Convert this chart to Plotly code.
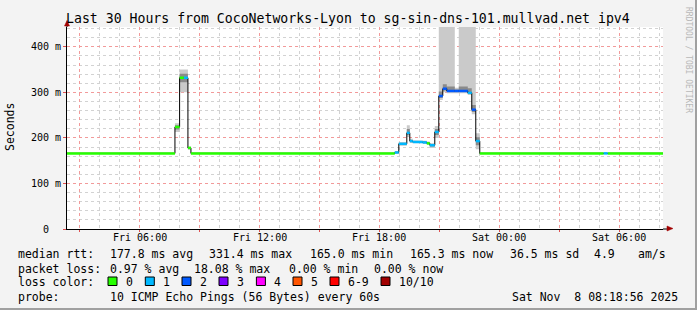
import plotly.graph_objects as go

# ---------------- data ----------------
seg_start = [
    "2025-11-07 02:22", "2025-11-07 07:46", "2025-11-07 08:00", "2025-11-07 08:13",
    "2025-11-07 08:25", "2025-11-07 08:34", "2025-11-07 18:46", "2025-11-07 18:58",
    "2025-11-07 19:22", "2025-11-07 19:31", "2025-11-07 19:40", "2025-11-07 20:10",
    "2025-11-07 20:22", "2025-11-07 20:31", "2025-11-07 20:46", "2025-11-07 20:58",
    "2025-11-07 21:10", "2025-11-07 21:22", "2025-11-07 21:46", "2025-11-07 21:58",
    "2025-11-07 22:25", "2025-11-07 22:37", "2025-11-07 22:49", "2025-11-07 23:01",
    "2025-11-08 05:13", "2025-11-08 05:25",
]
median_ms = [166, 224, 332, 332, 178, 166, 168, 187, 211, 193, 191, 190, 188, 184, 213,
             292, 308, 303, 303, 303, 299, 262, 193, 166, 166, 166]
smoke_lo_ms = [165, 213, 300, 300, 174, 165, 165, 183, 202, 189, 188, 187, 185, 178, 200,
               283, 300, 298, 298, 298, 294, 252, 175, 165, 165, 165]
smoke_hi_ms = [168, 232, 350, 350, 181, 168, 171, 191, 228, 198, 195, 194, 192, 188, 226,
               500, 500, 500, 310, 500, 500, 500, 210, 168, 168, 168]
loss_index = [0, 0, 0, 1, 0, 0, 1, 1, 1, 1, 1, 1, 0, 1, 1,
              2, 2, 2, 2, 2, 1, 2, 1, 0, 1, 0]
range_start = "2025-11-07 02:22"
range_end = "2025-11-08 08:11"

loss_colors = ["#26ff00", "#00b8ff", "#0059ff", "#7e00ff", "#ff00ff", "#ff5500", "#ff0000", "#a10000"]
loss_labels = ["0", "1", "2", "3", "4", "5", "6-9", "10/10"]

x_major_ticks = ["2025-11-07 03:00", "2025-11-07 06:00", "2025-11-07 09:00", "2025-11-07 12:00",
                 "2025-11-07 15:00", "2025-11-07 18:00", "2025-11-07 21:00", "2025-11-08 00:00",
                 "2025-11-08 03:00", "2025-11-08 06:00"]
x_major_text = ["", "Fri 06:00", "", "Fri 12:00", "", "Fri 18:00", "", "Sat 00:00", "", "Sat 06:00"]
y_tick_vals = [0, 100, 200, 300, 400]
y_tick_text = ["0\u00a0\u00a0", "100 m", "200 m", "300 m", "400 m"]

title_text = "Last 30 Hours from CocoNetworks-Lyon to sg-sin-dns-101.mullvad.net ipv4"
row_median = ["median rtt:", "177.8 ms avg", "331.4 ms max", "165.0 ms min", "165.3 ms now",
              "36.5 ms sd", "4.9", "am/s"]
row_loss = ["packet loss:", "0.97 % avg", "18.08 % max", "0.00 % min", "0.00 % now"]
row_probe = ["probe:", "10 ICMP Echo Pings (56 Bytes) every 60s"]
stamp = "Sat Nov\u00a0\u00a08 08:18:56 2025"

# ---------------- geometry helpers (pixel -> paper) ----------------
W, H = 697, 310
L, R, T, B = 67, 663, 27, 229


def px(x):
    return (x - L) / (R - L)


def py(y):
    return (B - y) / (B - T)


ends = seg_start[1:] + [range_end]

fig = go.Figure()


def band(lo_vals, hi_vals, color):
    xs, lo, hi = [], [], []
    for s, e, a, b in zip(seg_start, ends, lo_vals, hi_vals):
        xs += [s, e]
        lo += [a, a]
        hi += [b, b]
    fig.add_trace(go.Scatter(x=xs + xs[::-1], y=lo + hi[::-1], fill="toself",
                             fillcolor=color, line=dict(width=0), mode="lines",
                             hoverinfo="skip"))


# smoke (outer band and a darker inner band near the median)
band(smoke_lo_ms, smoke_hi_ms, "#cacaca")
inner_lo = [m - min((m - l) * 0.5, 10) for m, l in zip(median_ms, smoke_lo_ms)]
inner_hi = [m + min((h - m) * 0.5, 10) for m, h in zip(median_ms, smoke_hi_ms)]
band(inner_lo, inner_hi, "#8a8a8a")

# median step line (black)
sx, sy = [], []
for s, e, m in zip(seg_start, ends, median_ms):
    sx += [s, e]
    sy += [m, m]
fig.add_trace(go.Scatter(x=sx, y=sy, mode="lines", line=dict(color="#000000", width=1),
                         hoverinfo="skip"))

# colored median segments by loss
for k, col in enumerate(loss_colors):
    xs, ys = [], []
    for s, e, m, li in zip(seg_start, ends, median_ms, loss_index):
        if li == k:
            xs += [s, e, None]
            ys += [m, m, None]
    if xs:
        fig.add_trace(go.Scatter(x=xs, y=ys, mode="lines", line=dict(color=col, width=2.5),
                                 hoverinfo="skip"))

mono = "DejaVu Sans Mono"
major_grid = "#f29a9a"
minor_grid = "#d2d2d2"

fig.update_layout(
    width=W, height=H,
    margin=dict(l=L, r=W - R, t=T, b=H - B),
    paper_bgcolor="#f3f3f3", plot_bgcolor="#ffffff",
    showlegend=False,
    font=dict(family=mono, size=10, color="#000000"),
    xaxis=dict(type="date", range=[range_start, range_end],
               tickmode="array", tickvals=x_major_ticks, ticktext=x_major_text,
               showticklabels=False,
               showgrid=True, gridcolor=major_grid, griddash="dot", gridwidth=1,
               minor=dict(dtick=3600000, tick0="2025-11-07 00:00", showgrid=True,
                          gridcolor=minor_grid, griddash="dot", gridwidth=1),
               showline=True, linecolor="#000000", linewidth=1,
               ticks="outside", ticklen=2, tickcolor="#e05050",
               zeroline=False, fixedrange=True),
    yaxis=dict(range=[0, (B - T) / 0.4555], tickmode="array",
               tickvals=y_tick_vals, ticktext=y_tick_text,
               showgrid=True, gridcolor=major_grid, griddash="dot", gridwidth=1,
               minor=dict(dtick=20, tick0=0, showgrid=True, gridcolor=minor_grid,
                          griddash="dot", gridwidth=1),
               showline=True, linecolor="#000000", linewidth=1,
               ticks="outside", ticklen=3, tickcolor="#e05050",
               zeroline=False, fixedrange=True, tickfont=dict(family=mono, size=10)),
)

ann = []


def text(x, y, s, size=11.5, anchor="left", color="#000000", angle=0):
    ann.append(dict(x=px(x), y=py(y), xref="paper", yref="paper", text=s, showarrow=False,
                    xanchor=anchor, yanchor="middle", textangle=angle,
                    font=dict(family=mono, size=size, color=color)))


# x tick labels placed on the date axis
for tv, tt in zip(x_major_ticks, x_major_text):
    if tt:
        ann.append(dict(x=tv, y=py(237.5), xref="x", yref="paper", text=tt, showarrow=False,
                        xanchor="center", yanchor="middle",
                        font=dict(family=mono, size=10, color="#000000")))

text(348, 18.5, title_text, size=13.2, anchor="center")
text(10, 127, "Seconds", size=11.5, anchor="center", angle=-90)
text(689, 60, "RRDTOOL / TOBI OETIKER", size=8, anchor="center", color="#b8b8b8", angle=90)

for s, x in zip(row_median, [15.5, 107.5, 207, 307.5, 408, 508, 592, 635.5]):
    text(x, 254.5, s)
for s, x in zip(row_loss, [15.5, 107.5, 192.4, 286.7, 372.4]):
    text(x, 268.5, s)
text(15.5, 282, "loss color:")
box_x = [108, 145.3, 182, 219, 256.4, 293, 330, 381]
shapes = []
for lab, col, bx in zip(loss_labels, loss_colors, box_x):
    shapes.append(dict(type="rect", xref="paper", yref="paper", x0=px(bx), x1=px(bx + 9),
                       y0=py(285.5), y1=py(277), fillcolor=col,
                       line=dict(color="#000000", width=1)))
    text(bx + 15.5, 282, lab)
for s, x in zip(row_probe, [15.5, 107.5]):
    text(x, 296.5, s)
text(680, 296.5, stamp, anchor="right")

# axis extensions and arrows
shapes.append(dict(type="line", xref="paper", yref="paper", x0=1, x1=px(668), y0=0, y1=0,
                   line=dict(color="#000000", width=1)))
shapes.append(dict(type="path", xref="paper", yref="paper",
                   path=f"M {px(667)} {py(226)} L {px(673)} {py(228.5)} L {px(667)} {py(231)} Z",
                   fillcolor="#a10000", line=dict(color="#a10000", width=0.5)))
shapes.append(dict(type="line", xref="paper", yref="paper", x0=0, x1=0, y0=1, y1=py(24),
                   line=dict(color="#000000", width=1)))
shapes.append(dict(type="path", xref="paper", yref="paper",
                   path=f"M {px(64.5)} {py(26)} L {px(67)} {py(20.5)} L {px(69.5)} {py(26)} Z",
                   fillcolor="#a10000", line=dict(color="#a10000", width=0.5)))
# frame
shapes.append(dict(type="rect", xref="paper", yref="paper", x0=px(695), x1=px(697),
                   y0=py(310), y1=py(0), fillcolor="#a0a0a0", line=dict(width=0)))
shapes.append(dict(type="rect", xref="paper", yref="paper", x0=px(0), x1=px(697),
                   y0=py(310), y1=py(308), fillcolor="#a0a0a0", line=dict(width=0)))

fig.update_layout(annotations=ann, shapes=shapes)
fig.write_html("out.html")
